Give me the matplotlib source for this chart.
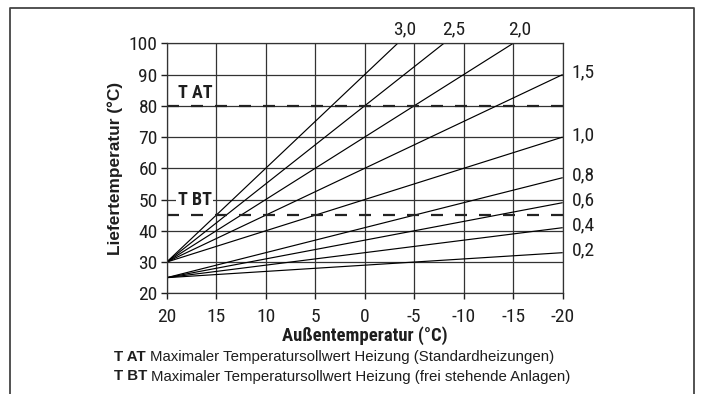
import matplotlib
matplotlib.use("Agg")
import matplotlib.pyplot as plt
from matplotlib.lines import Line2D
import numpy as np
from matplotlib import font_manager

# Heating curves: slope (K flow per K outdoor) and flow temperature at 20 °C outdoor
curve_labels = ["3,0", "2,5", "2,0", "1,5", "1,0", "0,8", "0,6", "0,4", "0,2"]
curve_slopes = [3.0, 2.5, 2.0, 1.5, 1.0, 0.8, 0.6, 0.4, 0.2]
curve_base = [30, 30, 30, 30, 30, 25, 25, 25, 25]

outdoor_range = [20, -20]
x_ticks = [20, 15, 10, 5, 0, -5, -10, -15, -20]
y_ticks = [20, 30, 40, 50, 60, 70, 80, 90, 100]

t_at = 80
t_bt = 45

names = {f.name for f in font_manager.fontManager.ttflist}
narrow = next((n for n in ["Liberation Sans Narrow", "Arial Narrow", "Nimbus Sans Narrow",
                           "Roboto Condensed", "Archivo Narrow", "Liberation Sans"]
               if n in names), "DejaVu Sans")
regular = "Liberation Sans"

ink = "#1e1e1e"
fs_tick = 14

fig = plt.figure(figsize=(7.02, 3.94), dpi=100)
ax = fig.add_axes([166.7 / 702, 1 - 293.3 / 394, (562.7 - 166.7) / 702, (293.3 - 43.3) / 394])

ax.set_xlim(20, -20)
ax.set_ylim(20, 100)
ax.set_xticks(x_ticks)
ax.set_yticks(y_ticks)
ax.set_xticklabels([str(v) for v in x_ticks], fontfamily=narrow, fontsize=fs_tick, color=ink)
ax.set_yticklabels([str(v) for v in y_ticks], fontfamily=narrow, fontsize=fs_tick, color=ink)
ax.tick_params(direction="out", length=4, width=1.0, color=ink)
ax.tick_params(axis="x", pad=6.5)
ax.tick_params(axis="y", pad=2.5)

ax.grid(True, color="#333333", linewidth=0.9)
ax.set_axisbelow(True)
for s in ax.spines.values():
    s.set_color("#333333")
    s.set_linewidth(0.9)

# heating curves
xs = np.array(outdoor_range, dtype=float)
for lab, k, b in zip(curve_labels, curve_slopes, curve_base):
    ys = b + k * (20 - xs)
    ax.plot(xs, ys, color="black", linewidth=0.85, solid_capstyle="butt", clip_on=True)

# curve labels: steep curves above the plot, others at the right
top_pos = {"3,0": -4.0, "2,5": -9.0, "2,0": -15.7}
for lab, k, b in zip(curve_labels, curve_slopes, curve_base):
    if lab in top_pos:
        ax.text(top_pos[lab], 101.6, lab, ha="center", va="bottom",
                fontfamily=narrow, fontsize=fs_tick, color=ink, clip_on=False)
    else:
        yend = b + k * 40
        ax.text(-20.9, yend + 0.6, lab, ha="left", va="center",
                fontfamily=narrow, fontsize=fs_tick, color=ink, clip_on=False)

# maximum setpoint lines
for yv in (t_at, t_bt):
    ax.axhline(yv, color="#222222", linewidth=1.6, dashes=(5.4, 5.4))

ax.text(18.9, 84.0, "T AT", ha="left", va="center", fontfamily=narrow,
        fontweight="bold", fontsize=13, color=ink)
ax.text(18.9, 49.8, "T BT", ha="left", va="center", fontfamily=narrow,
        fontweight="bold", fontsize=13, color=ink,
        bbox=dict(boxstyle="square,pad=0.1", facecolor="white", edgecolor="none"))

ax.set_xlabel("Außentemperatur (°C)", fontfamily=narrow, fontweight="bold",
              fontsize=13.4, color=ink, labelpad=0.5)
ax.set_ylabel("Liefertemperatur (°C)", fontfamily=regular, fontweight="bold",
              fontsize=12.4, color=ink, labelpad=4)

# footnotes
for i, (key, desc) in enumerate([
    ("T AT", "Maximaler Temperatursollwert Heizung (Standardheizungen)"),
    ("T BT", "Maximaler Temperatursollwert Heizung (frei stehende Anlagen)"),
]):
    yf = 1 - (357 + 19.5 * i) / 394
    t1 = fig.text(114 / 702, yf, key + " ", fontfamily=regular, fontweight="bold",
                  fontsize=10.8, color=ink, va="center", ha="left")
    fig.canvas.draw()
    bb = t1.get_window_extent()
    fig.text(bb.x1 / 702, yf, desc, fontfamily=regular, fontsize=10.8,
             color=ink, va="center", ha="left")

# frame around the figure
fx0, fx1, fy1 = 10 / 702, 694 / 702, 1 - 7.7 / 394
fig.add_artist(Line2D([fx0, fx0, fx1, fx1], [0, fy1, fy1, 0],
                      transform=fig.transFigure, color="#444444", linewidth=1.3))

fig.savefig("out.png", dpi=100)
